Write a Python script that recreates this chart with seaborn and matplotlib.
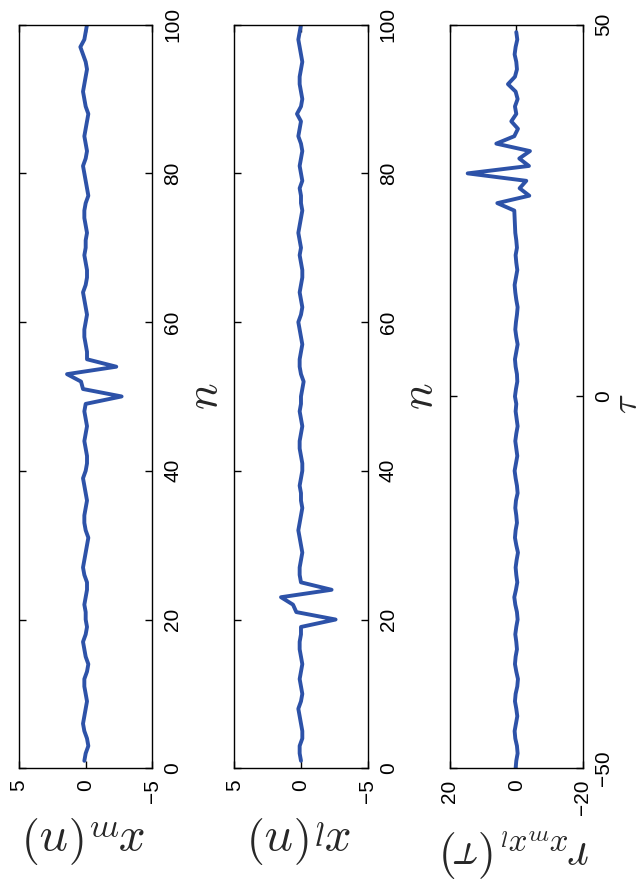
import numpy as np
import pandas as pd
import matplotlib
matplotlib.use('Agg')
import matplotlib.pyplot as plt
import seaborn as sns

# sample index and lags
n = np.arange(1, 101)
tau = np.arange(-50, 50)

# x_m(n): small noise with a short burst around n = 50..54
x_m = [0.1, 0.0, -0.2, -0.1, 0.1, 0.2, 0.1, 0.0, -0.1, 0.0,
       0.1, 0.1, -0.1, -0.2, 0.0, 0.1, 0.2, 0.0, -0.1, 0.0,
       0.0, 0.1, 0.0, -0.1, -0.1, 0.1, 0.2, 0.1, 0.0, -0.1,
       -0.2, 0.0, 0.1, 0.1, 0.0, -0.1, 0.0, 0.1, 0.2, 0.0,
       -0.1, -0.1, 0.0, 0.1, 0.0, -0.1, 0.0, 0.1, 0.0, -2.7,
       0.2, 0.35, 1.4, -2.3, -0.1, -0.1, 0.0, 0.1, 0.1, 0.0,
       -0.1, 0.0, 0.1, 0.2, 0.0, -0.1, -0.1, 0.0, 0.1, 0.0,
       0.0, -0.1, 0.0, 0.1, 0.1, 0.0, -0.2, -0.1, 0.0, 0.1,
       0.2, 0.0, -0.1, 0.0, 0.1, 0.0, -0.1, -0.2, 0.0, 0.1,
       0.2, 0.1, 0.0, -0.1, 0.0, 0.2, 0.4, 0.1, 0.0, -0.1]

# x_l(n): same burst shifted to n = 20..24
x_l = [0.0, 0.1, 0.1, -0.1, -0.1, 0.0, 0.1, 0.2, 0.0, -0.1,
       0.0, 0.1, 0.0, -0.1, 0.0, 0.1, 0.1, 0.0, 0.0, -2.6,
       0.35, 0.6, 1.5, -2.3, 0.0, 0.1, 0.1, 0.0, -0.1, 0.0,
       0.1, 0.2, 0.1, 0.0, -0.1, 0.0, 0.0, 0.1, 0.0, -0.1,
       -0.1, 0.0, 0.1, 0.1, 0.0, -0.1, 0.0, 0.1, 0.0, 0.0,
       -0.1, -0.2, 0.0, 0.1, 0.1, 0.0, -0.1, 0.0, 0.1, 0.2,
       0.0, -0.1, 0.0, 0.1, 0.0, -0.1, -0.1, 0.0, 0.1, 0.0,
       0.1, 0.2, 0.1, 0.0, -0.1, 0.0, 0.0, 0.1, -0.1, 0.0,
       0.1, 0.0, -0.1, 0.0, 0.2, 0.1, 0.0, 0.3, 0.0, -0.1,
       0.0, 0.1, 0.1, 0.0, -0.1, 0.0, 0.1, 0.2, 0.1, 0.0]

# cross-correlation r_{xm xl}(tau)
r_ml = [0.2, 0.0, -0.4, -0.2, 0.3, 0.5, 0.1, -0.3, 0.0, 0.4,
        0.2, -0.3, -0.5, 0.0, 0.4, 0.2, -0.2, 0.0, 0.3, 0.0,
        -0.4, -0.2, 0.3, 0.6, 0.1, -0.3, 0.0, 0.2, -0.1, -0.5,
        0.0, 0.4, 0.2, -0.2, 0.0, 0.3, 0.1, -0.4, -0.2, 0.2,
        0.5, 0.1, -0.3, 0.0, 0.3, 0.0, -0.4, -0.1, 0.2, 0.0,
        0.4, 0.1, -0.3, -0.2, 0.2, 0.4, 0.0, -0.4, 0.0, 0.3,
        0.1, -0.2, -0.4, 0.0, 0.3, 0.5, 0.1, -0.3, 0.0, 0.2,
        -0.2, 0.0, 0.3, 0.4, 0.5, 0.6, 5.7, -3.9, -1.0, -3.0,
        14.6, -3.8, -0.9, -4.1, 6.0, 0.6, -0.5, 1.5, 0.0, 0.4,
        -0.4, 0.2, 2.5, 0.4, -0.2, 0.0, 0.5, 0.2, -0.3, 0.0]

panels = [
    (x_m, n, 5, [0, 20, 40, 60, 80, 100], (0, 100), [5, 0, -5], r'$x_m(n)$', r'$n$'),
    (x_l, n, 5, [0, 20, 40, 60, 80, 100], (0, 100), [5, 0, -5], r'$x_l(n)$', r'$n$'),
    (r_ml, tau, 20, [-50, 0, 50], (-50, 50), [20, 0, -20], r'$r_{x_m x_l}(\tau)$', r'$\tau$'),
]

sns.set_style('white')
plt.rcParams['font.family'] = ['Liberation Sans', 'DejaVu Sans']
plt.rcParams['mathtext.fontset'] = 'cm'

fig = plt.figure(figsize=(6.37, 8.81), dpi=100)
lefts = [0.030, 0.368, 0.706]
color = '#2D52A8'

for k, (left, (vals, idx, lim, yt, ylim, xt, vlabel, ilabel)) in enumerate(zip(lefts, panels)):
    ax = fig.add_axes([left, 0.128, 0.209, 0.844])
    df = pd.DataFrame({'v': vals, 'i': idx})
    sns.lineplot(data=df, x='v', y='i', sort=False, estimator=None,
                 color=color, linewidth=2.8, ax=ax)
    ax.set_xlim(lim, -lim)
    ax.set_ylim(*ylim)
    ax.set_xticks(xt)
    ax.set_yticks(yt)
    ax.set_xticklabels([str(t).replace('-', '\u2212') for t in xt], rotation=90, fontsize=15)
    ax.set_yticklabels([str(t).replace('-', '\u2212') for t in yt], rotation=90,
                       fontsize=15, va='center')
    ax.yaxis.tick_right()
    ax.yaxis.set_label_position('right')
    ax.tick_params(axis='both', direction='in', length=5, width=1, pad=8,
                   bottom=True, top=True, left=True, right=True, colors='black')
    for s in ax.spines.values():
        s.set_color('black')
        s.set_linewidth(1.0)
    ax.set_xlabel(vlabel, fontsize=34, rotation=180, labelpad=8)
    if k < 2:
        ax.set_ylabel(ilabel, fontsize=32, rotation=90, labelpad=2)
    else:
        ax.set_ylabel(ilabel, fontsize=26, rotation=90)
        ax.yaxis.set_label_coords(1.205, 0.49)

fig.savefig('out.png', dpi=100)
